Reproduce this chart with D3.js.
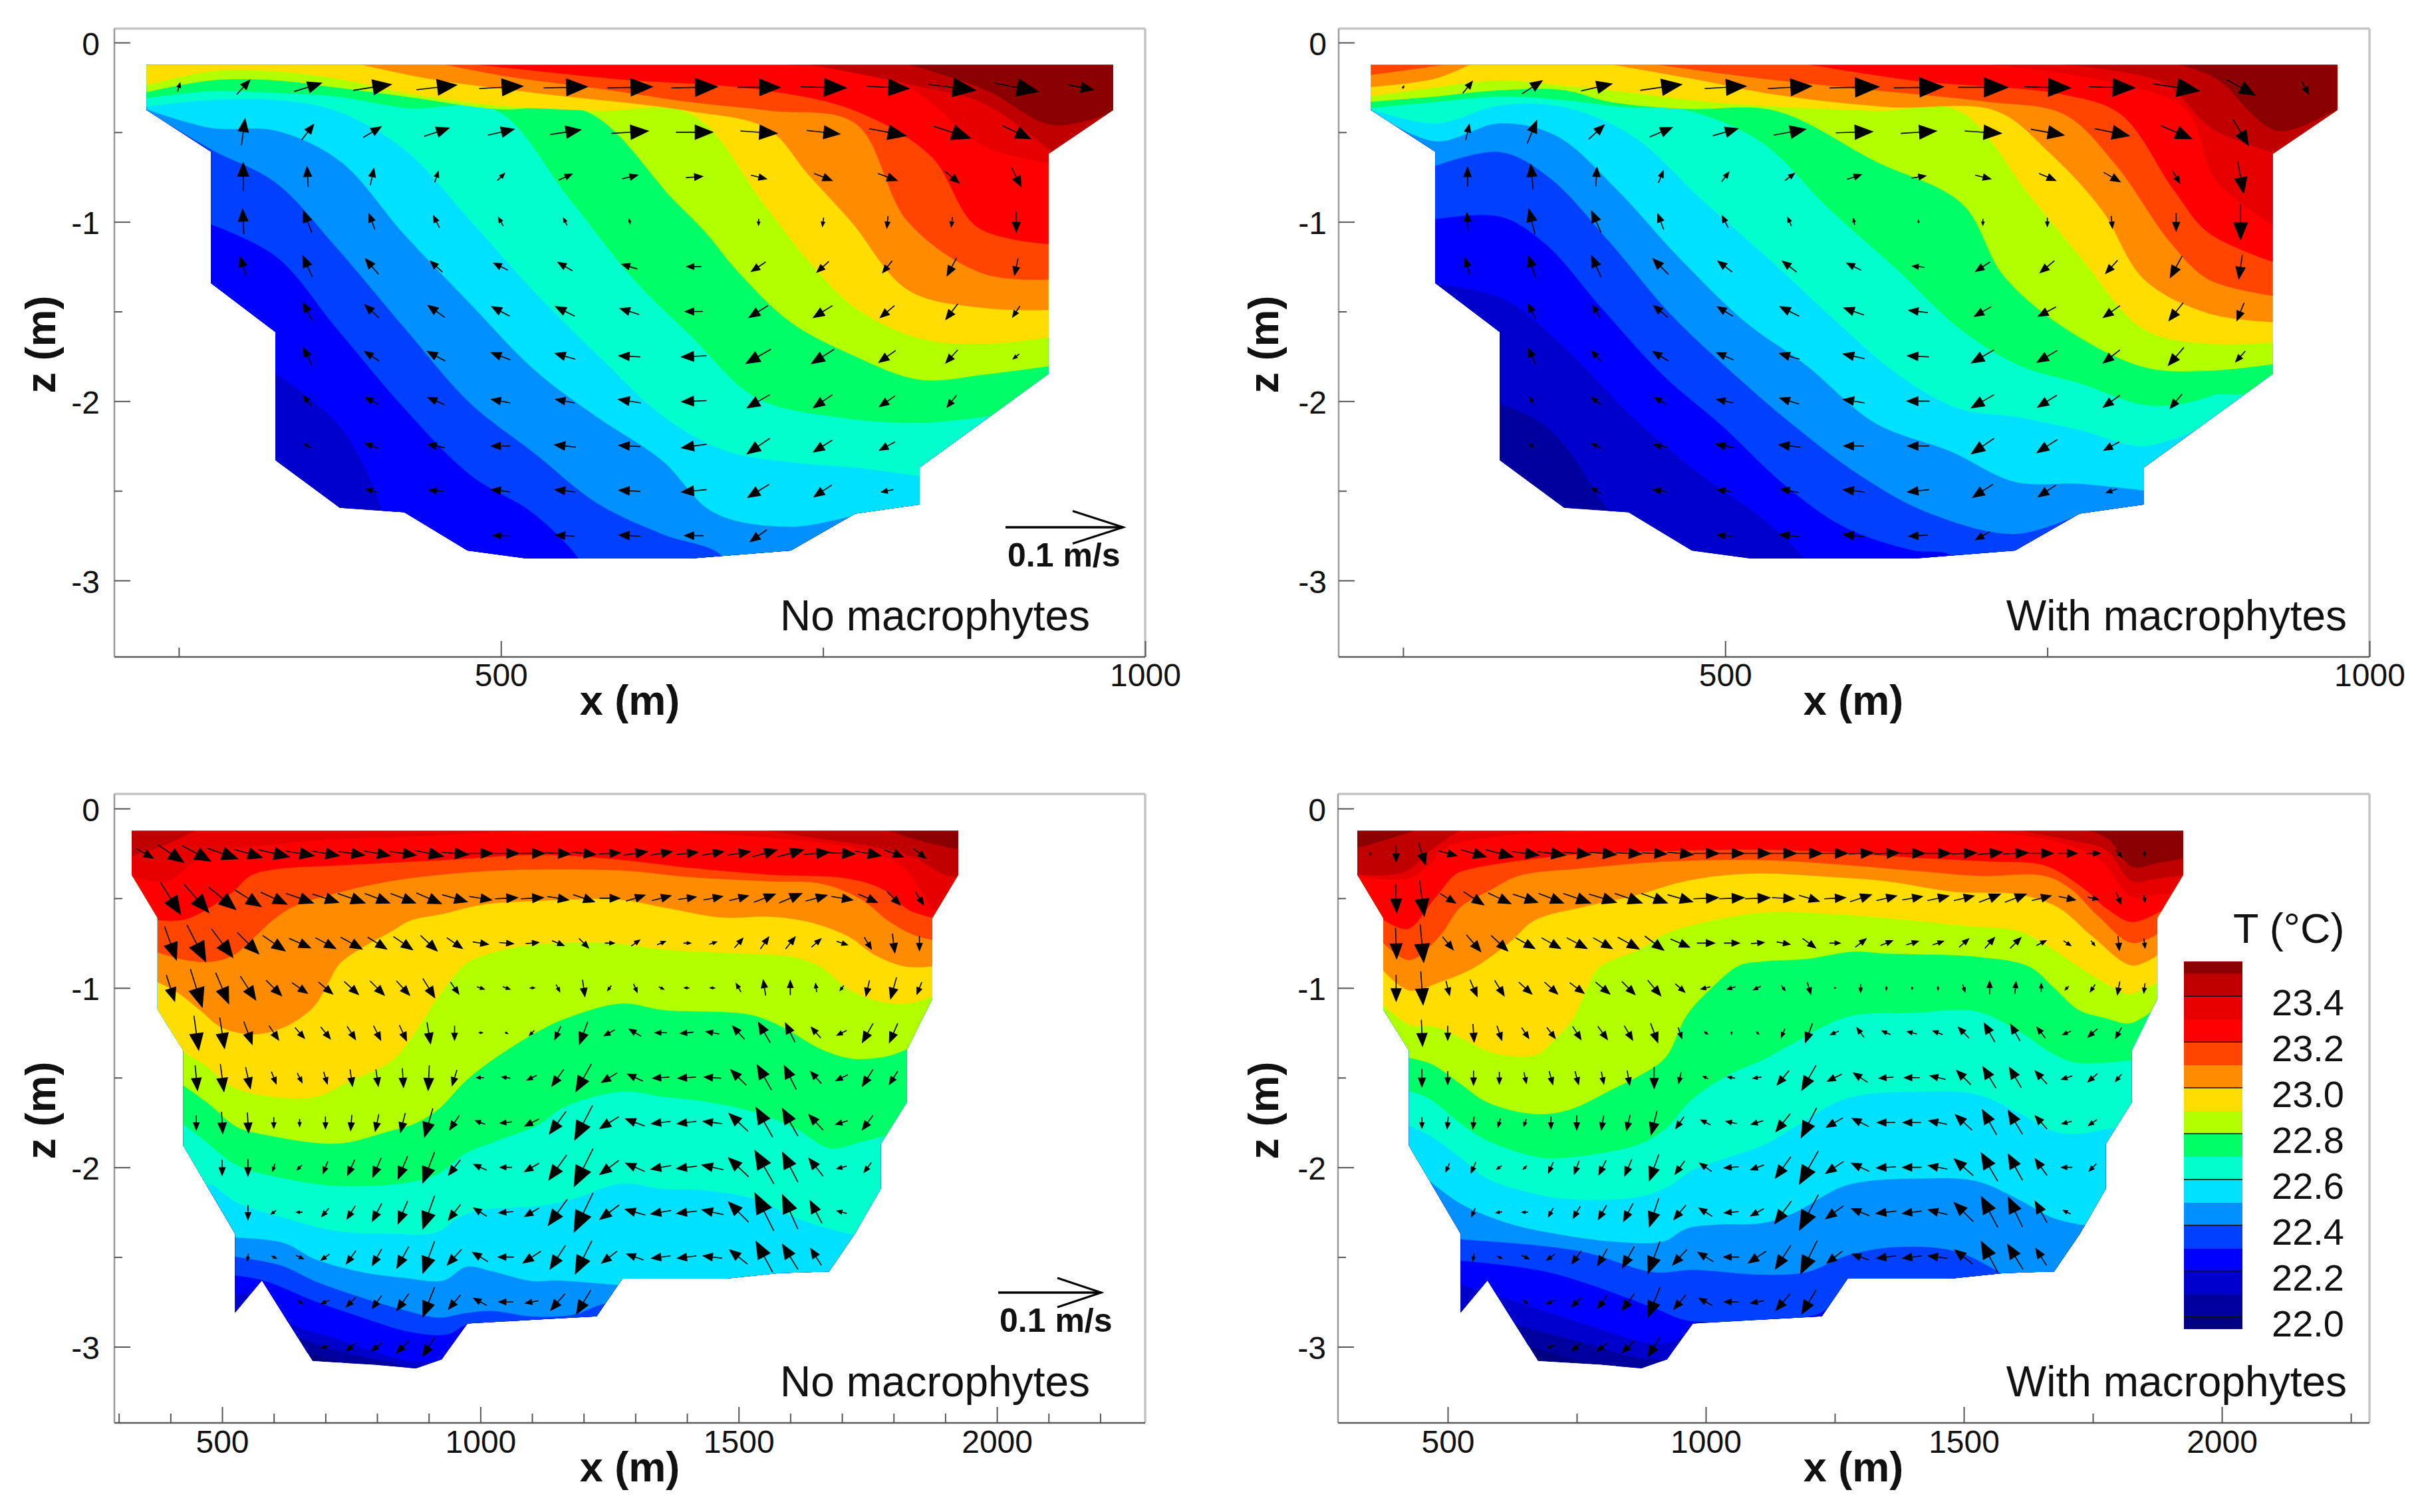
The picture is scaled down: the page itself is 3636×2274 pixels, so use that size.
<!DOCTYPE html>
<html><head><meta charset="utf-8"><style>html,body{margin:0;background:#fff}text{font-family:"Liberation Sans",Arial,sans-serif;fill:#111}</style>
<script src="https://cdn.jsdelivr.net/npm/d3@7"></script></head><body><svg id="c" width="3636" height="2274"></svg>
<script>
// temperature bands: fill above each level (base colour is below the first level)
const tempLevels=[22.0,22.1,22.2,22.3,22.4,22.5,22.6,22.7,22.8,22.9,23.0,23.1,23.2,23.3,23.4,23.5];
const bandColors=["#00009e","#0000cc","#0000ff","#0040ff","#0090ff","#00e0ff","#00ffcc","#00ff66","#b2ff00","#ffdd00","#ff8c00","#ff4500","#ff0000","#e60000","#c00000","#8b0000"];
const baseColor="#000080";
const barLabels=[22.0,22.2,22.4,22.6,22.8,23.0,23.2,23.4];
// cross-section outlines: x (m), z (m)
const outlineTop=[225,-.125,975,-.125,975,-.376,925,-.62,925,-1.848,825,-2.37,825,-2.576,775,-2.627,725,-2.833,647,-2.878,520,-2.878,474,-2.833,425,-2.62,375,-2.595,325,-2.33,325,-1.615,275,-1.342,275,-.609,225,-.376];
const outlineBottom=[325,-.125,1925,-.125,1925,-.37,1875,-.61,1875,-1.06,1825,-1.35,1825,-1.64,1775,-1.87,1775,-2.12,1725,-2.37,1675,-2.58,1577,-2.59,1475,-2.62,1275,-2.62,1225,-2.83,1100,-2.85,975,-2.87,925,-3.07,875,-3.12,795,-3.1,675,-3.08,577,-2.63,525,-2.81,525,-2.37,425,-1.88,425,-1.35,375,-1.12,375,-.61,325,-.37];
// isotherm polylines: [level, x,z, x,z, ...]
const isoA=[
[22.0,200,-4,1000,-4],
[22.1,200,-4,1000,-4],
[22.2,320,-1.82,351,-1.98,375,-2.14,393,-2.35,408,-2.62,415,-3],
[22.3,270,-1,325,-1.19,372,-1.59,425,-2.04,476,-2.41,526,-2.63,562,-2.9,565,-3],
[22.4,224,-.376,275,-.595,325,-.78,372,-1.14,425,-1.59,476,-2.01,526,-2.29,575,-2.57,625,-2.74,671,-2.86,675,-3],
[22.5,224,-.37,275,-.476,325,-.49,375,-.66,425,-1.07,476,-1.455,526,-1.825,575,-2.09,625,-2.33,665,-2.62,725,-2.7,772,-2.64],
[22.6,224,-.357,275,-.32,325,-.32,372,-.38,425,-.595,476,-.99,526,-1.39,579,-1.77,627,-2.09,674,-2.275,725,-2.34,775,-2.37,828,-2.42],
[22.7,224,-.31,275,-.27,325,-.28,372,-.3,428,-.365,496,-.376,553,-.87,603,-1.32,648,-1.64,698,-1.98,763,-2.09,825,-2.12,881,-2.08],
[22.8,224,-.278,275,-.21,325,-.21,372,-.25,425,-.3,496,-.37,568,-.39,633,-.87,659,-1.06,683,-1.27,725,-1.56,775,-1.75,825,-1.88,876,-1.85,929,-1.8],
[22.9,224,-.24,275,-.16,325,-.16,372,-.2,425,-.28,496,-.35,573,-.38,648,-.4,704,-.9,739,-1.22,775,-1.48,825,-1.65,876,-1.68,929,-1.64],
[23.0,390,-.12,443,-.2,526,-.28,645,-.38,707,-.48,739,-.74,772,-1,816,-1.38,875,-1.48,929,-1.49],
[23.1,455,-.12,502,-.185,585,-.265,645,-.33,710,-.38,775,-.45,816,-1,875,-1.29,929,-1.32],
[23.2,479,-.12,585,-.2,704,-.265,775,-.38,834,-.635,870,-1.03,929,-1.125],
[23.3,716,-.12,810,-.225,876,-.58,929,-.675],
[23.4,739,-.12,822,-.24,875,-.34,929,-.62],
[23.5,816,-.12,852,-.2,881,-.28,928,-.46,980,-.376]];
const isoB=[
[22.0,200,-4,1000,-4],
[22.1,320,-2,357,-2.12,381,-2.3,401,-2.53,410,-2.62,415,-3],
[22.2,270,-1.34,328,-1.43,378,-1.72,428,-2.09,481,-2.41,528,-2.65,563,-2.9,566,-3],
[22.3,270,-.99,325,-.97,360,-1.12,404,-1.48,451,-1.85,498,-2.14,545,-2.46,592,-2.7,645,-2.83,675,-2.86,680,-3],
[22.4,270,-.7,325,-.61,363,-.75,410,-1.11,457,-1.51,507,-1.85,554,-2.14,604,-2.41,657,-2.62,725,-2.74,775,-2.63],
[22.5,224,-.376,275,-.55,325,-.45,369,-.52,416,-.82,463,-1.19,516,-1.56,563,-1.8,616,-2.12,675,-2.28,725,-2.45,775,-2.46,828,-2.5],
[22.6,224,-.37,275,-.45,325,-.35,375,-.36,428,-.52,481,-.87,539,-1.24,587,-1.56,634,-1.85,681,-2.04,728,-2.09,775,-2.16,825,-2.25,875,-2.13],
[22.7,224,-.365,275,-.33,325,-.3,375,-.32,422,-.36,469,-.376,528,-.555,581,-.93,634,-1.27,681,-1.59,728,-1.8,775,-1.9,825,-2.02,857,-2.01,881,-1.96],
[22.8,224,-.33,275,-.3,325,-.265,375,-.265,410,-.33,469,-.37,539,-.38,616,-.66,684,-.9,716,-1.3,763,-1.59,825,-1.81,875,-1.83,928,-1.79],
[22.9,224,-.3,275,-.25,325,-.21,375,-.24,428,-.28,486,-.33,616,-.38,681,-.38,737,-.86,775,-1.19,825,-1.6,875,-1.68,928,-1.67],
[23.0,220,-.25,275,-.2,304,-.115],
[23.0,410,-.12,481,-.21,539,-.29,628,-.36,710,-.38,751,-.61,792,-.93,825,-1.32,875,-1.51,928,-1.56],
[23.1,220,-.185,275,-.13,286,-.115],
[23.1,445,-.12,528,-.2,616,-.265,704,-.33,763,-.4,804,-.69,845,-1.11,875,-1.32,928,-1.415],
[23.2,563,-.12,645,-.21,763,-.29,807,-.4,848,-.82,875,-1.06,928,-1.23],
[23.3,704,-.12,792,-.21,857,-.37,881,-.77,928,-1.03],
[23.4,757,-.12,840,-.225,878,-.48,928,-.62],
[23.5,851,-.12,881,-.2,928,-.49,976,-.375,985,-.37]];
const isoC=[
[22.0,660,-3.03,722,-3.08,791,-3.12],
[22.1,640,-2.94,722,-3.02,829,-3.09,876,-3.13],
[22.2,520,-2.72,575,-2.7,623,-2.856,722,-2.955,808,-3.04,868,-3.08,926,-3.07,975,-3],
[22.3,520,-2.6,580,-2.63,679,-2.745,765,-2.83,864,-2.917,937,-2.93,975,-2.875,1100,-2.87,1235,-2.85],
[22.4,520,-2.495,615,-2.547,679,-2.633,765,-2.72,851,-2.794,920,-2.837,971,-2.812,1022,-2.8,1100,-2.83,1180,-2.82,1240,-2.76,1300,-2.76],
[22.5,520,-2.39,619,-2.42,679,-2.51,765,-2.58,851,-2.615,928,-2.63,973,-2.553,1022,-2.578,1100,-2.633,1150,-2.63,1285,-2.66],
[22.6,483,-2.098,529,-2.196,620,-2.281,722,-2.354,824,-2.369,915,-2.362,956,-2.281,1002,-2.237,1113,-2.215,1177,-2.178,1273,-2.09,1355,-2.12,1432,-2.127,1534,-2.178,1610,-2.281,1712,-2.369,1728,-2.376],
[22.7,420,-1.746,462,-1.841,529,-1.988,620,-2.061,737,-2.105,875,-2.076,920,-2.032,971,-1.922,1027,-1.856,1113,-1.761,1161,-1.665,1273,-1.577,1355,-1.607,1427,-1.629,1534,-1.695,1610,-1.783,1677,-1.893,1738,-1.856,1779,-1.827],
[22.8,420,-1.533,473,-1.643,529,-1.775,600,-1.827,681,-1.863,737,-1.863,824,-1.797,875,-1.753,920,-1.672,966,-1.533,1002,-1.445,1053,-1.343,1113,-1.24,1161,-1.174,1273,-1.086,1355,-1.123,1523,-1.149,1585,-1.218,1661,-1.343,1722,-1.394,1789,-1.379,1830,-1.335],
[22.9,370,-1.123,425,-1.35,467,-1.43,518,-1.548,590,-1.604,681,-1.607,747,-1.519,824,-1.416,854,-1.328,875,-1.24,915,-1.064,941,-.962,971,-.866,1027,-.8,1113,-.756,1253,-.749,1355,-.786,1508,-.808,1610,-.83,1661,-.888,1712,-1.006,1779,-1.079,1830,-1.086,1880,-1.042],
[23.0,370,-.962,411,-1.02,457,-1.123,498,-1.218,559,-1.258,620,-1.218,676,-1.108,707,-.962,727,-.866,773,-.771,824,-.69,864,-.624,925,-.588,1002,-.536,1113,-.514,1268,-.507,1355,-.551,1467,-.607,1559,-.602,1636,-.632,1712,-.712,1763,-.815,1824,-.881,1880,-.877],
[23.1,370,-.797,429,-.844,483,-.852,523,-.815,564,-.712,600,-.617,640,-.544,722,-.47,824,-.405,925,-.368,1027,-.346,1113,-.339,1279,-.346,1406,-.382,1559,-.405,1661,-.419,1738,-.507,1789,-.624,1840,-.705,1880,-.734],
[23.2,370,-.62,429,-.617,518,-.47,554,-.375,600,-.339,722,-.317,925,-.287,1113,-.258,1253,-.28,1406,-.33,1559,-.368,1712,-.39,1779,-.45,1830,-.566,1880,-.61],
[23.3,320,-.375,396,-.405,437,-.316,488,-.243,600,-.2,722,-.17,875,-.155,1113,-.12],
[23.3,1355,-.12,1559,-.163,1712,-.214,1814,-.316,1875,-.566],
[23.4,320,-.27,391,-.2,450,-.12],
[23.4,1554,-.12,1661,-.17,1763,-.214,1840,-.273,1900,-.37,1930,-.38],
[23.5,1789,-.12,1840,-.17,1880,-.2,1930,-.23]];
const isoD=[
[22.0,644,-2.983,769,-3.089,827,-3.108,835,-3.2],
[22.1,614,-2.863,769,-2.983,871,-3.062,915,-3.076,925,-3.1],
[22.2,520,-2.65,585,-2.704,769,-2.876,901,-2.983,945,-2.956,989,-2.85],
[22.3,520,-2.518,695,-2.584,900,-2.783,959,-2.85,1033,-2.863,1106,-2.85,1223,-2.81,1267,-2.677,1285,-2.64],
[22.4,520,-2.4,754,-2.465,900,-2.584,974,-2.571,1106,-2.597,1194,-2.584,1275,-2.49,1370,-2.443,1488,-2.47,1583,-2.61],
[22.5,465,-2.076,524,-2.2,616,-2.31,708,-2.369,820,-2.413,917,-2.413,963,-2.34,1024,-2.318,1110,-2.31,1172,-2.252,1274,-2.098,1422,-2.061,1524,-2.076,1606,-2.178,1672,-2.281,1729,-2.32],
[22.6,420,-1.761,463,-1.819,524,-1.944,576,-2.061,683,-2.156,744,-2.178,871,-2.164,928,-2.105,973,-2.017,1050,-1.937,1110,-1.878,1172,-1.775,1274,-1.614,1422,-1.577,1524,-1.592,1606,-1.695,1672,-1.797,1723,-1.812,1780,-1.783],
[22.7,420,-1.57,463,-1.614,524,-1.753,576,-1.849,678,-1.944,734,-1.944,871,-1.871,922,-1.783,973,-1.621,1050,-1.475,1110,-1.401,1157,-1.328,1274,-1.16,1402,-1.138,1524,-1.13,1606,-1.24,1672,-1.365,1718,-1.416,1830,-1.401],
[22.8,420,-1.387,468,-1.423,524,-1.533,576,-1.636,667,-1.702,734,-1.68,820,-1.563,871,-1.489,922,-1.387,963,-1.152,1009,-1.006,1065,-.874,1110,-.852,1198,-.837,1285,-.797,1351,-.808,1530,-.827,1627,-.881,1672,-.991,1723,-1.123,1774,-1.167,1823,-1.196,1880,-1.094],
[22.9,370,-1.079,425,-1.204,479,-1.218,530,-1.284,591,-1.365,672,-1.372,708,-1.284,744,-1.167,764,-1.035,792,-.888,820,-.844,871,-.786,922,-.698,989,-.639,1110,-.58,1249,-.588,1402,-.624,1504,-.654,1606,-.683,1657,-.756,1734,-.903,1810,-1.028,1823,-1.035,1880,-.962],
[23.0,370,-.888,425,-1.013,489,-.962,540,-.903,581,-.83,627,-.727,667,-.624,769,-.544,871,-.478,948,-.412,1024,-.375,1110,-.361,1249,-.382,1351,-.405,1479,-.463,1606,-.478,1683,-.551,1749,-.712,1826,-.874,1880,-.808],
[23.1,370,-.734,425,-.844,484,-.712,524,-.551,581,-.456,637,-.375,769,-.331,922,-.295,1110,-.287,1249,-.309,1402,-.346,1530,-.375,1657,-.375,1708,-.449,1759,-.595,1826,-.749,1880,-.69],
[23.2,370,-.61,422,-.671,473,-.507,514,-.368,540,-.339,627,-.295,769,-.25,922,-.236,1110,-.229,1249,-.243,1402,-.273,1555,-.295,1657,-.317,1734,-.449,1774,-.551,1826,-.632,1880,-.573],
[23.3,320,-.375,422,-.39,463,-.316,499,-.214,596,-.155,769,-.12],
[23.3,1504,-.12,1657,-.17,1759,-.273,1826,-.492,1877,-.478,1933,-.463],
[23.4,320,-.368,417,-.353,468,-.229,524,-.12],
[23.4,1606,-.12,1708,-.177,1775,-.229,1826,-.405,1874,-.39,1930,-.368],
[23.5,320,-.22,361,-.19,438,-.12],
[23.5,1739,-.12,1780,-.17,1826,-.324,1877,-.302,1935,-.273]];
// velocity rows: [z, first x, u,w, u,w, ...] in mm/s of the drawn arrow, columns 50 m apart
const arrowsA=[
[-.25,250,2,7,11,12,23,7,32,5,34,4,37,2,37,1,38,1,39,1,36,0,39,-1,36,-2,40,-5,37,-7,21,-4],
[-.5,300,3,22,10,13,15,9,21,7,22,5,26,4,31,2,31,0,31,-2,28,-3,31,-6,31,-10,24,-11],
[-.75,300,0,24,-1,17,3,14,3,9,6,6,11,5,13,3,14,1,13,-3,15,-6,16,-6,12,-10,8,-16],
[-1,300,-1,21,-7,18,-5,13,-5,10,-4,7,-3,6,-1,4,0,0,0,-5,-1,-7,-1,-10,-1,-8,0,-17],
[-1.25,300,-5,16,-8,18,-11,13,-10,9,-12,6,-12,7,-13,4,-12,0,-12,-8,-10,-9,-8,-10,-8,-15,-3,-14],
[-1.5,350,-7,14,-12,11,-14,10,-15,8,-16,8,-16,5,-15,0,-16,-10,-16,-10,-12,-10,-10,-13,-6,-9],
[-1.75,350,-7,14,-12,8,-15,8,-16,6,-17,5,-18,1,-21,-1,-21,-12,-19,-12,-14,-10,-10,-11,-5,-4],
[-2,350,-7,8,-11,6,-14,6,-16,3,-16,3,-19,3,-21,-1,-19,-11,-16,-11,-13,-9,-8,-10],
[-2.25,350,-5,3,-11,4,-14,3,-16,0,-18,2,-18,1,-21,-3,-19,-13,-16,-10,-13,-7],
[-2.5,400,-10,3,-12,1,-16,2,-17,2,-18,1,-21,-2,-18,-11,-15,-10,-10,-2],
[-2.75,500,-13,0,-16,1,-18,1,-16,0,-14,-10]];
const arrowsB=[
[-.25,250,1,2,8,10,17,11,26,6,35,5,35,2,37,2,42,1,42,1,42,0,39,-1,39,-1,39,-6,24,-13,6,-11],
[-.5,300,3,13,8,19,13,12,19,8,21,6,27,5,31,1,30,2,31,-2,28,-5,29,-6,26,-11,13,-22],
[-.75,300,0,16,-2,21,1,16,4,10,6,8,8,6,12,4,12,2,13,-3,14,-6,14,-8,6,-10,5,-27],
[-1,300,-1,15,-5,21,-8,18,-5,13,-5,10,-3,7,-1,5,0,2,0,-5,0,-7,1,-10,0,-15,0,-30],
[-1.25,300,-4,14,-6,18,-8,18,-13,13,-12,9,-12,9,-12,6,-10,1,-12,-8,-12,-10,-10,-11,-10,-18,-3,-20],
[-1.5,350,-6,12,-6,10,-12,10,-13,8,-16,8,-17,6,-16,2,-14,-8,-15,-8,-14,-10,-12,-15,-6,-15],
[-1.75,350,-6,13,-8,9,-13,8,-14,6,-17,5,-18,4,-18,1,-19,-11,-17,-10,-14,-11,-13,-15,-8,-9],
[-2,350,-3,6,-8,6,-10,6,-14,3,-16,5,-18,3,-19,0,-19,-11,-16,-10,-14,-10,-10,-12],
[-2.25,350,-4,3,-8,4,-11,2,-15,3,-18,2,-17,0,-18,0,-19,-13,-17,-11,-13,-7],
[-2.5,400,-8,5,-13,2,-13,2,-15,3,-18,2,-18,-2,-17,-11,-15,-10,-9,-3],
[-2.75,500,-13,1,-17,2,-18,2,-16,-1,-12,-7]];
const arrowsDeep=[
[-2.5,550,-1,-6,4,-2,6,-3,-7,-5,-8,-11,-8,-14,-10,-18,-10,-27,-12,-13,-13,8,-13,0,-15,-10,-13,-20,-14,-28,-13,-10,-14,5,-16,-2,-16,-2,-16,2,-15,12,-14,26,-13,21,-9,14],
[-2.75,650,4,-3,-7,-3,-8,-8,-8,-11,-10,-14,-10,-25,-10,-12,-11,6,-12,0,-11,-2,-12,-14,-12,-20],
[-3,700,-6,-2,-8,-7,-9,-7,-10,-10,-10,-16]];
const arrowsC=[
[-.25,350,14,-8,22,-15,24,-13,26,-9,24,-7,26,-6,24,-4,23,-4,22,-3,22,-4,22,-3,24,-5,23,-2,21,0,21,0,21,0,21,-1,20,-2,18,1,20,3,18,3,18,2,18,3,19,3,21,6,22,6,22,2,22,-1,22,-4,16,-6,10,-8],
[-.5,400,17,-27,21,-24,23,-19,22,-14,22,-10,23,-8,22,-7,23,-8,21,-8,21,-8,21,-9,21,-6,19,-3,19,1,19,1,18,-3,18,-6,17,0,16,5,16,4,15,2,16,3,16,4,18,7,19,8,18,5,18,-3,16,-7,11,-11,7,-11],
[-.75,400,10,-28,16,-31,18,-24,18,-18,19,-13,18,-8,17,-9,18,-10,16,-10,16,-11,14,-13,13,-9,13,-2,12,-1,11,1,10,-4,8,-8,8,0,7,5,7,3,6,0,6,2,7,8,7,10,8,10,8,7,9,-3,6,-10,2,-16,0,-12],
[-1,400,7,-22,10,-32,11,-26,13,-20,13,-13,13,-9,12,-10,12,-11,12,-12,11,-12,10,-16,7,-10,6,-2,6,-2,4,0,3,-6,2,-14,-3,-4,3,-7,4,-2,-4,0,-4,0,-4,7,-2,13,0,12,-1,7,-3,-4,-3,-13,-5,-18,-4,-10],
[-1.25,450,4,-29,4,-26,7,-19,8,-12,8,-9,8,-10,7,-11,6,-12,6,-13,3,-18,0,-12,3,0,2,-1,-4,-4,-5,-11,-7,-19,-9,-5,-10,6,-10,0,-11,-1,-11,2,-10,11,-10,17,-8,16,-8,9,-8,-4,-9,-16,-7,-16],
[-1.5,450,2,-21,3,-23,4,-18,4,-10,4,-8,3,-10,2,-14,2,-14,1,-16,-1,-21,-4,-13,-6,0,-7,1,-8,-4,-10,-14,-13,-23,-13,-8,-13,6,-14,-1,-15,-1,-14,1,-13,13,-12,21,-10,20,-9,10,-10,-5,-9,-14,-7,-11],
[-1.75,450,0,-12,1,-18,1,-17,0,-9,0,-6,0,-10,-1,-13,-3,-14,-4,-16,-7,-24,-8,-12,-8,3,-10,-1,-12,-6,-14,-19,-15,-29,-16,-10,-16,6,-16,-2,-16,-2,-16,2,-16,15,-14,25,-13,23,-12,13,-10,-3,-9,-12],
[-2,500,0,-13,0,-14,-2,-6,-4,-4,-4,-10,-6,-13,-7,-16,-8,-19,-10,-26,-10,-13,-11,5,-10,0,-12,-7,-15,-21,-16,-32,-16,-12,-16,7,-17,-3,-17,-2,-18,4,-17,16,-16,28,-13,25,-12,15,-8,-2,-6,-8],
[-2.25,550,0,-12,-4,-3,-5,0,-6,-7,-7,-11,-8,-15,-8,-19,-10,-28,-10,-13,-11,7,-12,-1,-12,-7,-16,-22,-16,-33,-16,-12,-17,5,-17,-3,-17,-2,-18,4,-17,17,-16,32,-13,29,-10,19,-8,2]];
const arrowsD=[
[-.25,350,0,-2,0,-14,6,-19,15,-4,21,-6,23,-6,23,-3,24,-3,23,-2,23,-2,22,-1,21,-1,22,-2,22,0,21,0,22,0,22,0,22,0,21,0,21,1,21,1,21,0,21,0,21,1,21,2,21,1,20,0,17,0,12,0,5,-6,0,-4],
[-.5,400,1,-24,4,-30,13,-8,17,-11,19,-9,21,-7,21,-8,23,-8,23,-7,23,-8,22,-8,21,-6,21,1,21,1,21,1,19,-1,17,-5,18,1,18,6,17,4,17,3,18,4,17,4,18,7,18,7,16,4,14,-3,9,-2,4,-10,1,-6],
[-.75,400,1,-26,3,-32,9,-11,12,-14,14,-13,16,-9,16,-9,17,-9,16,-9,18,-10,16,-12,16,-7,15,0,13,0,11,1,11,-2,11,-8,9,0,9,7,10,4,10,3,9,3,8,7,8,9,9,9,8,4,6,-4,3,-4,1,-12,1,-8],
[-1,400,0,-22,2,-28,3,-12,6,-14,8,-13,11,-10,11,-10,12,-9,12,-10,11,-11,11,-13,8,-7,-8,-2,-7,-2,-6,-3,3,-4,3,-10,1,0,0,-7,0,-3,0,-2,0,-3,2,-6,0,11,1,10,0,7,-3,-3,-4,-6,-2,-11,-1,-8],
[-1.25,450,1,-22,0,-12,1,-15,4,-12,6,-9,7,-9,7,-11,8,-11,7,-12,6,-16,3,-9,3,-2,0,-2,2,-2,-3,-7,-6,-16,-7,-3,-6,8,-7,3,-8,2,-8,3,-9,9,-9,16,-8,14,-7,9,-7,-3,-8,-7,-5,-9],
[-1.5,450,0,-15,0,-11,0,-12,0,-10,2,-9,3,-11,3,-11,2,-10,2,-12,0,-18,-2,-9,-4,2,-6,1,-7,-1,-10,-12,-12,-21,-12,-6,-12,8,-12,-1,-13,0,-13,3,-12,12,-11,18,-10,17,-10,11,-9,-3,-8,-7,-5,-6],
[-1.75,450,0,-9,-1,-10,-1,-10,-2,-7,-2,-6,0,-10,0,-12,-2,-12,-3,-13,-5,-20,-7,-10,-8,4,-9,2,-10,-3,-12,-15,-13,-25,-14,-8,-14,7,-15,0,-15,0,-15,3,-14,13,-12,21,-12,20,-10,11,-8,-2,-7,-5],
[-2,500,-3,-7,-4,-9,-4,-3,-3,-3,-4,-9,-4,-11,-6,-12,-6,-14,-8,-22,-8,-11,-10,7,-12,-1,-11,-4,-13,-18,-16,-28,-15,-10,-15,7,-16,-1,-16,0,-16,3,-16,14,-14,24,-12,22,-10,14,-9,0,-6,-6],
[-2.25,550,-3,-7,-5,-1,-5,0,-4,-7,-6,-10,-7,-12,-8,-15,-8,-24,-10,-12,-11,7,-12,-1,-11,-6,-14,-19,-16,-30,-15,-11,-15,6,-17,-2,-16,-2,-16,4,-16,16,-14,26,-12,25,-10,18,-6,3]];
const yMajor=[0,-1,-2,-3], yMinor=[-.5,-1.5,-2.5];
const panels=[
 {id:"A",box:[172,43,1722,988],xd:[200,1000],zr:[64,873],major:[500,1000],minor:[250,750],iso:isoA,outline:outlineTop,arrows:arrowsA,label:"No macrophytes",labelEnd:1639,labelY:948,lblGap:22,xlabel:947,zx:83,zc:518,xBase:1032,xLab:1075,ref:[1512,793,177,101,24.5,1515,852]},
 {id:"B",box:[2013,43,3563,988],xd:[200,1000],zr:[64,873],major:[500,1000],minor:[250,750],iso:isoB,outline:outlineTop,arrows:arrowsB,label:"With macrophytes",labelEnd:3529,labelY:948,lblGap:18,xlabel:2787,zx:1922,zc:518,xBase:1032,xLab:1075},
 {id:"C",box:[172,1194,1722,2140],xd:[291.4,2287],zr:[1216,2025.5],major:[500,1000,1500,2000],minor:d3.range(300,2300,100).filter(v=>v%500),iso:isoC,outline:outlineBottom,arrows:arrowsC.concat(arrowsDeep),label:"No macrophytes",labelEnd:1639,labelY:2100,lblGap:22,xlabel:947,zx:83,zc:1670,xBase:2185,xLab:2228,ref:[1501,1944,155,89,22,1503,2003]},
 {id:"D",box:[2012,1194,3563,2140],xd:[287.4,2286],zr:[1216,2025.5],major:[500,1000,1500,2000],minor:[750,1250,1750,2250],iso:isoD,outline:outlineBottom,arrows:arrowsD.concat(arrowsDeep),label:"With macrophytes",labelEnd:3529,labelY:2100,lblGap:18,xlabel:2787,zx:1922,zc:1670,xBase:2185,xLab:2228}];
const svg=d3.select("#c");
const pairs=a=>d3.range(0,a.length,2).map(i=>[a[i],a[i+1]]);
const pxPerUnit=1.77;
panels.forEach(p=>{
 const [L,T,R,B]=p.box;
 const x=d3.scaleLinear().domain(p.xd).range([L,R]);
 const z=d3.scaleLinear().domain([0,-3]).range(p.zr);
 const line=d3.line().x(d=>x(d[0])).y(d=>z(d[1]));
 const smooth=d3.line().x(d=>x(d[0])).y(d=>z(d[1])).curve(d3.curveCatmullRom.alpha(.5));
 const g=svg.append("g");
 const cp="clip"+p.id;
 g.append("clipPath").attr("id",cp).append("path").attr("d",line(pairs(p.outline))+"Z");
 const plot=g.append("g").attr("clip-path",`url(#${cp})`);
 plot.append("path").attr("d",line(pairs(p.outline))+"Z").attr("fill",baseColor);
 const rows=p.iso.map(r=>({level:r[0],pts:pairs(r.slice(1))})).sort((a,b)=>a.level-b.level);
 plot.selectAll("path.band").data(rows).join("path").attr("class","band")
  .attr("fill",d=>bandColors[tempLevels.indexOf(d.level)])
  .attr("stroke",d=>bandColors[tempLevels.indexOf(d.level)]).attr("stroke-width",.5)
  .attr("d",d=>{
    const a=d.pts[0],b=d.pts[d.pts.length-1];
    return `M${x(p.xd[0])},${z(a[1])}L`+smooth(d.pts).slice(1)+`L${x(p.xd[1])},${z(b[1])}L${x(p.xd[1])},${z(0)}L${x(p.xd[0])},${z(0)}Z`;
  });
 // arrows
 const nodes=[];
 p.arrows.forEach(r=>{const vs=pairs(r.slice(2));vs.forEach((v,i)=>nodes.push({x:r[1]+i*50,z:r[0],u:v[0],w:v[1]}));});
 g.selectAll("path.arrow").data(nodes).join("path").attr("class","arrow")
  .attr("fill","#000").attr("stroke","#000").attr("stroke-width",1.6).attr("stroke-linejoin","miter")
  .attr("d",d=>{
    const dx=d.u*pxPerUnit,dy=-d.w*pxPerUnit,len=Math.hypot(dx,dy);
    if(!len) return null;
    const cx=x(d.x),cy=z(d.z),ux=dx/len,uy=dy/len;
    const tx=cx+dx/2,ty=cy+dy/2,hl=.47*len,hw=.19*len;
    const bx=tx-ux*hl,by=ty-uy*hl;
    const pth=d3.path();
    pth.moveTo(cx-dx/2,cy-dy/2);pth.lineTo(bx,by);
    pth.moveTo(tx,ty);pth.lineTo(bx-uy*hw,by+ux*hw);pth.lineTo(bx+uy*hw,by-ux*hw);pth.closePath();
    return pth.toString();
  });
 // frame
 const fr=[[L,T,R,T,"#c4c4c4",3.5],[R,T,R,B,"#c4c4c4",3.5],[L,T,L,B,"#9a9a9a",2.5],[L,B,R,B,"#5c5c5c",2.5]];
 g.selectAll("line.fr").data(fr).join("line").attr("class","fr").attr("x1",d=>d[0]).attr("y1",d=>d[1]).attr("x2",d=>d[2]).attr("y2",d=>d[3]).attr("stroke",d=>d[4]).attr("stroke-width",d=>d[5]);
 // axes
 const xA=g.append("g").attr("transform",`translate(0,${B})`).call(d3.axisBottom(x).tickValues(p.major).tickSize(-24).tickFormat(d3.format("d")));
 xA.select(".domain").remove();
 xA.selectAll("line").attr("stroke","#555").attr("stroke-width",2);
 xA.selectAll("text").attr("y",p.xBase-B).attr("dy",0).attr("font-size",48).attr("fill","#111").style("font-family",'"Liberation Sans"');
 const xM=g.append("g").attr("transform",`translate(0,${B})`).call(d3.axisBottom(x).tickValues(p.minor).tickSize(-14).tickFormat(""));
 xM.select(".domain").remove();xM.selectAll("line").attr("stroke","#555").attr("stroke-width",2);
 const yA=g.append("g").attr("transform",`translate(${L},0)`).call(d3.axisLeft(z).tickValues(yMajor).tickSize(-24).tickPadding(p.lblGap).tickFormat(d3.format("d")));
 yA.select(".domain").remove();yA.selectAll("line").attr("stroke","#555").attr("stroke-width",2);
 yA.selectAll("text").attr("dy",18).attr("font-size",48).attr("fill","#111").attr("x",-p.lblGap).style("font-family",'"Liberation Sans"').text(d=>d===0?"0":"-"+Math.abs(d));
 const yM=g.append("g").attr("transform",`translate(${L},0)`).call(d3.axisLeft(z).tickValues(yMinor).tickSize(-12).tickFormat(""));
 yM.select(".domain").remove();yM.selectAll("line").attr("stroke","#555").attr("stroke-width",2);
 // titles
 g.append("text").attr("x",p.xlabel).attr("y",p.xLab).attr("text-anchor","middle").attr("font-size",63).attr("font-weight","bold").text("x (m)");
 g.append("text").attr("transform",`translate(${p.zx},${p.zc}) rotate(-90)`).attr("text-anchor","middle").attr("font-size",63).attr("font-weight","bold").text("z (m)");
 g.append("text").attr("x",p.labelEnd).attr("y",p.labelY).attr("text-anchor","end").attr("font-size",64).text(p.label);
 if(p.ref){
  const [rx,ry,rl,bs,bh,tx,ty]=p.ref;
  g.append("line").attr("x1",rx).attr("y1",ry).attr("x2",rx+rl).attr("y2",ry).attr("stroke","#000").attr("stroke-width",3.5);
  g.append("path").attr("d",d3.line()([[rx+bs,ry-bh],[rx+rl,ry],[rx+bs,ry+bh]])).attr("fill","none").attr("stroke","#000").attr("stroke-width",3);
  g.append("text").attr("x",tx).attr("y",ty).attr("font-size",50).attr("font-weight","bold").text("0.1 m/s");
 }
});
// colour bar
const barY=d3.scaleLinear().domain([22,23.4]).range([1980.5,1498.3]);
const barX=[3284,3372];
const edges=[21.948,...tempLevels,23.552];
const barCols=[baseColor,...bandColors];
const bar=svg.append("g");
bar.selectAll("rect").data(barCols).join("rect").attr("x",barX[0]).attr("width",barX[1]-barX[0])
 .attr("y",(d,i)=>barY(edges[i+1])).attr("height",(d,i)=>barY(edges[i])-barY(edges[i+1])+.5).attr("fill",d=>d);
bar.selectAll("line").data(barLabels).join("line").attr("x1",barX[0]).attr("x2",barX[1]).attr("y1",d=>barY(d)).attr("y2",d=>barY(d)).attr("stroke","#111").attr("stroke-width",1.6);
bar.selectAll("text.l").data(barLabels).join("text").attr("class","l").attr("x",3416).attr("y",d=>barY(d)+29).attr("font-size",56).text(d=>d.toFixed(1));
bar.append("text").attr("x",3358).attr("y",1418).attr("font-size",63).text("T (°C)");
</script></body></html>
